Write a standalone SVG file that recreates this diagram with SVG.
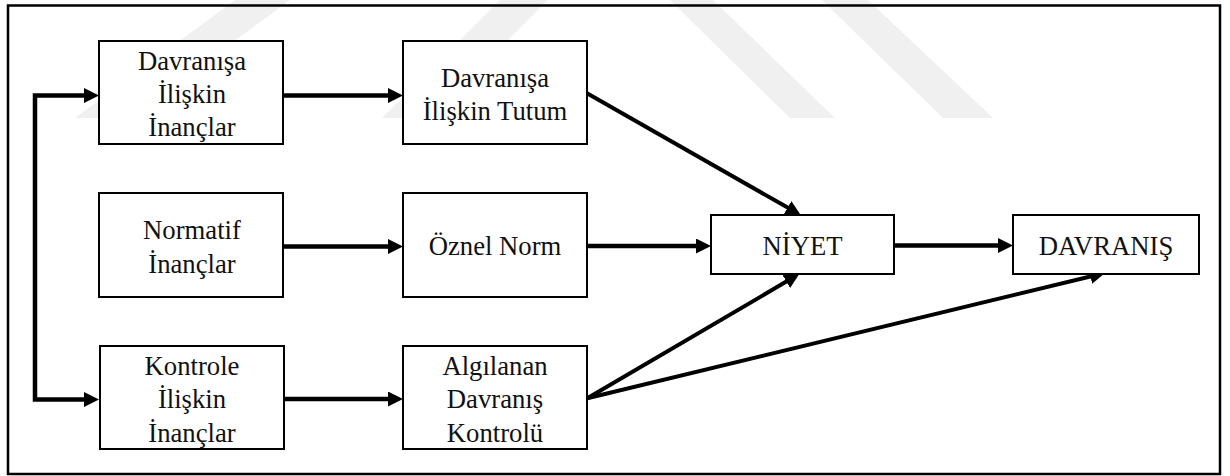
<svg xmlns="http://www.w3.org/2000/svg" width="1230" height="476" viewBox="0 0 1230 476">
<style>
.box{fill:#fff;stroke:#000;stroke-width:2}
.con{fill:none;stroke:#000;stroke-width:4.5}
.diag{fill:none;stroke:#000;stroke-width:4}
.wm{fill:#f0f0f0}
</style>
<defs>
<marker id="ah" markerUnits="userSpaceOnUse" markerWidth="16" markerHeight="16" refX="1" refY="7.5" orient="auto"><path d="M0,0 L15,7.5 L0,15 z" fill="#000"/></marker>
<marker id="ahs" markerUnits="userSpaceOnUse" markerWidth="16" markerHeight="16" refX="1" refY="7.5" orient="auto-start-reverse"><path d="M0,0 L15,7.5 L0,15 z" fill="#000"/></marker>
</defs>
<rect width="1230" height="476" fill="#fff"/>
<g id="watermark">
<polygon class="wm" points="235,0 290,0 130,118 75,118"/>
<polygon class="wm" points="500,0 548,0 430,118 382,118"/>
<polygon class="wm" points="670,0 713,0 835,118 790,118"/>
<polygon class="wm" points="822,0 868,0 993,118 943,118"/>
</g>
<rect id="frame" x="8" y="5.5" width="1212" height="468.5" fill="none" stroke="#000" stroke-width="2.5"/>
<g id="connectors">
<path class="con" d="M85,95.5 H35 V399.5 H85" marker-start="url(#ahs)" marker-end="url(#ah)"/>
<line class="con" x1="283" y1="95.5" x2="389" y2="95.5" marker-end="url(#ah)"/>
<line class="con" x1="283" y1="246.5" x2="389" y2="246.5" marker-end="url(#ah)"/>
<line class="con" x1="284" y1="399" x2="389" y2="399" marker-end="url(#ah)"/>
<line class="con" x1="587" y1="246" x2="697" y2="246" marker-end="url(#ah)"/>
<line class="con" x1="894" y1="245.5" x2="999" y2="245.5" marker-end="url(#ah)"/>
<line class="diag" x1="587" y1="93.3" x2="788.5" y2="208.1" marker-end="url(#ah)"/>
<line class="diag" x1="587.3" y1="398.3" x2="787.2" y2="281.1" marker-end="url(#ah)"/>
<line class="diag" x1="587.3" y1="398.3" x2="1091.4" y2="276.3" marker-end="url(#ah)"/>
</g>
<g font-family="'Liberation Serif', 'DejaVu Serif', 'Times New Roman', serif" font-size="26.7" fill="#111" text-anchor="middle">
<g id="n1">
<rect class="box" x="99" y="41" width="184" height="103"/>
<text x="192" y="70">Davranışa</text>
<text x="192" y="103">İlişkin</text>
<text x="192" y="136">İnançlar</text>
</g>
<g id="n2">
<rect class="box" x="403" y="41" width="184" height="103"/>
<text x="495" y="86.5">Davranışa</text>
<text x="495" y="119.5">İlişkin Tutum</text>
</g>
<g id="n3">
<rect class="box" x="99" y="193" width="184" height="104"/>
<text x="192" y="239">Normatif</text>
<text x="192" y="272.5">İnançlar</text>
</g>
<g id="n4">
<rect class="box" x="403" y="193" width="184" height="104"/>
<text x="495" y="255">Öznel Norm</text>
</g>
<g id="n5">
<rect class="box" x="100" y="346" width="184" height="103"/>
<text x="192" y="374.5">Kontrole</text>
<text x="192" y="408">İlişkin</text>
<text x="192" y="441.5">İnançlar</text>
</g>
<g id="n6">
<rect class="box" x="403" y="346" width="184" height="103"/>
<text x="495" y="374.5">Algılanan</text>
<text x="495" y="408">Davranış</text>
<text x="495" y="441.5">Kontrolü</text>
</g>
<g id="n7">
<rect class="box" x="711" y="215" width="183" height="59"/>
<text x="802.5" y="255">NİYET</text>
</g>
<g id="n8">
<rect class="box" x="1013" y="215" width="186" height="59"/>
<text x="1106" y="254.5">DAVRANIŞ</text>
</g>
</g>
</svg>
